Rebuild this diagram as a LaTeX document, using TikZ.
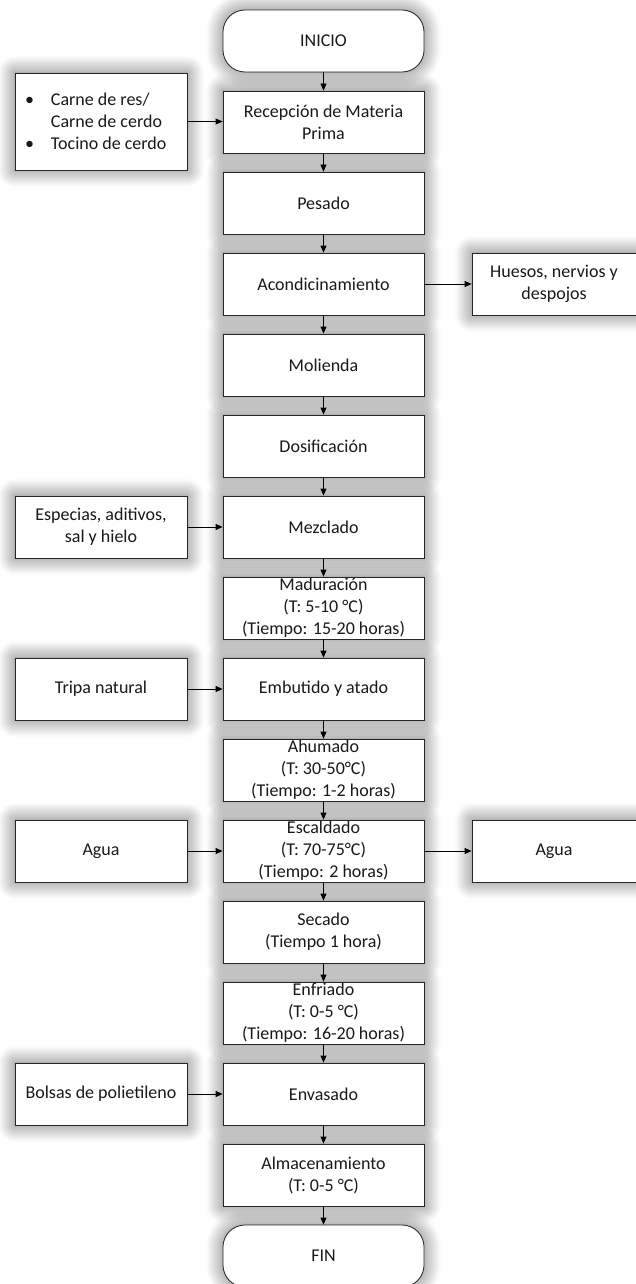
\documentclass[tikz,border=0pt]{standalone}
\usepackage{fontspec}
\setmainfont{Carlito}
\usetikzlibrary{arrows.meta,shadows.blur}
\tikzset{
  glow/.style={blur shadow={shadow xshift=0pt,shadow yshift=0pt,shadow blur radius=17pt,shadow blur steps=10,shadow opacity=60}},
  mainbox/.style={draw=black!85,line width=0.8pt,fill=white,glow,inner sep=0pt,minimum width=201pt,minimum height=62pt,text=black!90},
  sidebox/.style={draw=black!85,line width=0.8pt,fill=white,glow,inner sep=0pt,minimum width=172pt,minimum height=62pt,text=black!90},
  rightbox/.style={draw=black!85,line width=0.8pt,fill=white,glow,inner sep=0pt,minimum width=164pt,minimum height=62pt,text=black!90},
  termbox/.style={mainbox,rounded corners=22pt},
  flow/.style={-{Triangle[length=7pt,width=6pt]},line width=0.8pt,black},
}
\newcommand{\bx}[3]{\parbox[c][#1pt][c]{#2pt}{\centering #3}}
\begin{document}
\begin{tikzpicture}[x=1pt,y=-1pt,font=\fontsize{18}{22}\selectfont]
\useasboundingbox (0,0) rectangle (636,1284);
% main column: centres y = 41 + 81k
\node[termbox] (n0) at (323.5,41) {\bx{62}{201}{INICIO}};
\node[mainbox] (n1) at (323.5,122) {\bx{62}{201}{Recepción de Materia\\Prima}};
\node[mainbox] (n2) at (323.5,203) {\bx{62}{201}{Pesado}};
\node[mainbox] (n3) at (323.5,284) {\bx{62}{201}{Acondicinamiento}};
\node[mainbox] (n4) at (323.5,365) {\bx{62}{201}{Molienda}};
\node[mainbox] (n5) at (323.5,446) {\bx{62}{201}{Dosificación}};
\node[mainbox] (n6) at (323.5,527) {\bx{62}{201}{Mezclado}};
\node[mainbox] (n7) at (323.5,608) {\bx{62}{201}{Maduración\\(T: 5-10 °C)\\(Tiempo: 15-20 horas)}};
\node[mainbox] (n8) at (323.5,689) {\bx{62}{201}{Embutido y atado}};
\node[mainbox] (n9) at (323.5,770) {\bx{62}{201}{Ahumado\\(T: 30-50°C)\\(Tiempo: 1-2 horas)}};
\node[mainbox] (n10) at (323.5,851) {\bx{62}{201}{Escaldado\\(T: 70-75°C)\\(Tiempo: 2 horas)}};
\node[mainbox] (n11) at (323.5,932) {\bx{62}{201}{Secado\\(Tiempo 1 hora)}};
\node[mainbox] (n12) at (323.5,1013) {\bx{62}{201}{Enfriado\\(T: 0-5 °C)\\(Tiempo: 16-20 horas)}};
\node[mainbox] (n13) at (323.5,1094) {\bx{62}{201}{Envasado}};
\node[mainbox] (n14) at (323.5,1175) {\bx{62}{201}{Almacenamiento\\(T: 0-5 °C)}};
\node[termbox] (n15) at (323.5,1256) {\bx{62}{201}{FIN}};
% left inputs
\node[sidebox,minimum height=97pt] (l1) at (101,121.5) {\parbox[c][97pt][c]{172pt}{\raggedright
  \hspace*{10pt}\makebox[26pt][l]{\textbullet}Carne de res/\\
  \hspace*{36pt}Carne de cerdo\\
  \hspace*{10pt}\makebox[26pt][l]{\textbullet}Tocino de cerdo}};
\node[sidebox] (l6) at (101,527) {\bx{62}{172}{Especias, aditivos,\\sal y hielo}};
\node[sidebox] (l8) at (101,689) {\bx{62}{172}{Tripa natural}};
\node[sidebox] (l10) at (101,851) {\bx{62}{172}{Agua}};
\node[sidebox] (l13) at (101,1094) {\bx{62}{172}{Bolsas de polietileno}};
% right outputs
\node[rightbox] (r3) at (554,284) {\bx{62}{164}{Huesos, nervios y\\despojos}};
\node[rightbox] (r10) at (554,851) {\bx{62}{164}{Agua}};
% connectors
\foreach \a/\b in {0/1,1/2,2/3,3/4,4/5,5/6,6/7,7/8,8/9,9/10,10/11,11/12,12/13,13/14,14/15}
  \draw[flow] (n\a.south) -- (n\b.north);
\draw[flow] (l1.east) -- (l1.east -| n1.west);
\foreach \k in {6,8,10,13}
  \draw[flow] (l\k.east) -- (n\k.west);
\draw[flow] (n3.east) -- (r3.west);
\draw[flow] (n10.east) -- (r10.west);
\end{tikzpicture}
\end{document}
